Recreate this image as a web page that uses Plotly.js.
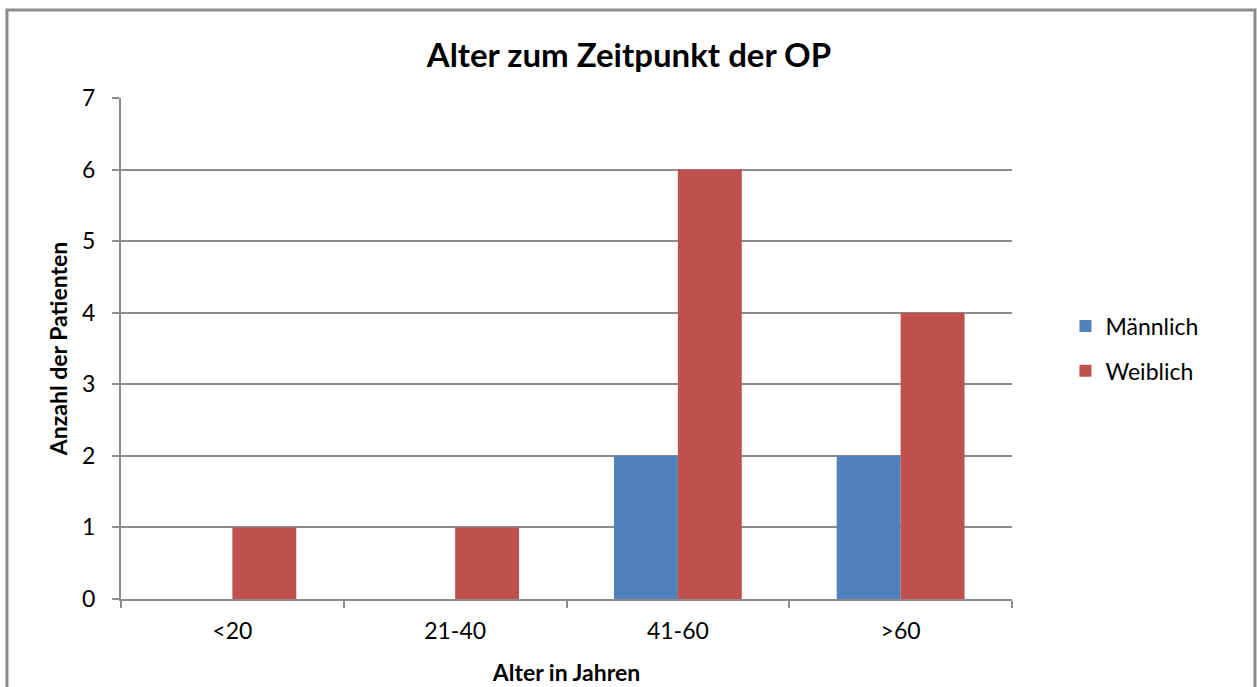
<!DOCTYPE html>
<html><head><meta charset="utf-8">
<script src="https://cdn.plot.ly/plotly-3.0.1.min.js"></script>
<style>html,body{margin:0;padding:0;background:#fff;}#chart{width:1258px;height:687px;}</style>
</head><body><div id="chart"></div>
<script>
const categories = ['<20', '21-40', '41-60', '>60'];
const maennlich = [0, 0, 2, 2];
const weiblich = [1, 1, 6, 4];
const seriesNames = ['Männlich', 'Weiblich'];
const yTicks = [0, 1, 2, 3, 4, 5, 6, 7];

const font = 'Lato, "Open Sans", "Liberation Sans", sans-serif';
const traces = [
  {type: 'bar', name: seriesNames[0], legendgroup: 'm', x: categories, y: maennlich, marker: {color: '#4F81BD'}},
  {type: 'bar', name: seriesNames[1], legendgroup: 'w', x: categories, y: weiblich, marker: {color: '#C0504D'}}
];
const layout = {
  width: 1258, height: 687,
  margin: {l: 121, r: 246, t: 98, b: 88},
  paper_bgcolor: '#fff', plot_bgcolor: '#fff',
  barmode: 'group', bargap: 0.426, bargroupgap: 0,
  font: {family: font, color: '#000', size: 22},
  title: {text: '<b>Alter zum Zeitpunkt der OP</b>', font: {size: 33, family: font, color: '#000'}, x: 0.5, xanchor: 'center', y: 0.92, yanchor: 'middle'},
  xaxis: {
    type: 'category', tickson: 'boundaries', ticks: 'outside', ticklen: 7, tickwidth: 2, tickcolor: '#8c8c8c',
    showline: true, linecolor: '#8c8c8c', linewidth: 2, showgrid: false, zeroline: false,
    tickfont: {size: 23, family: font, color: '#000'}, ticklabelstandoff: 10,
    title: {text: '<b>Alter in Jahren</b>', font: {size: 23, family: font, color: '#000'}, standoff: 22}
  },
  yaxis: {
    range: [0, 7], tickvals: yTicks, ticks: 'outside', ticklen: 7, tickwidth: 2, tickcolor: '#8c8c8c',
    showline: true, linecolor: '#8c8c8c', linewidth: 2, showgrid: true, gridcolor: '#8c8c8c', gridwidth: 2, zeroline: false,
    tickfont: {size: 23, family: font, color: '#000'}, ticklabelstandoff: 12,
    title: {text: '<b>Anzahl der Patienten</b>', font: {size: 23, family: font, color: '#000'}, standoff: 8}
  },
  legend: {x: 1.06, xanchor: 'left', y: 0.5, yanchor: 'middle', font: {size: 23, family: font, color: '#000'}, itemwidth: 30, traceorder: 'grouped', tracegroupgap: 12},
  showlegend: true,
  shapes: [{type: 'rect', xref: 'paper', yref: 'paper', x0: -0.128, x1: 1.2727, y0: -0.3, y1: 1.1756, line: {color: '#8c8c8c', width: 3}, fillcolor: 'rgba(0,0,0,0)', layer: 'below'}]
};
Plotly.newPlot('chart', traces, layout, {displayModeBar: false, staticPlot: true});
</script></body></html>
